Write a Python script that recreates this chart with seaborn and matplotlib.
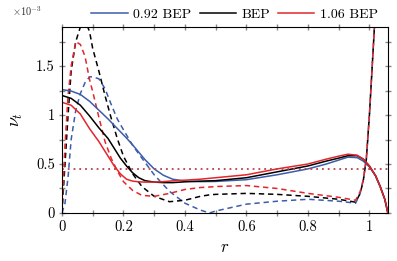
import numpy as np
import pandas as pd
import seaborn as sns
import matplotlib.pyplot as plt
from matplotlib.ticker import MultipleLocator

# Данные (значения в единицах 1e-3)
r_solid = [0, 0.03, 0.06, 0.09, 0.12, 0.15, 0.17, 0.19, 0.21, 0.23, 0.25, 0.27,
           0.3, 0.33, 0.36, 0.4, 0.45, 0.5, 0.6, 0.7, 0.8, 0.86, 0.9, 0.93, 0.96,
           0.98, 1.0, 1.02, 1.035, 1.05, 1.06]
nu_092 = [1.26, 1.245, 1.21, 1.14, 1.05, 0.96, 0.895, 0.83, 0.765, 0.695, 0.62, 0.545,
          0.45, 0.385, 0.345, 0.325, 0.32, 0.322, 0.34, 0.39, 0.45, 0.50, 0.54, 0.57,
          0.565, 0.53, 0.47, 0.38, 0.27, 0.14, 0.0]
nu_bep = [1.20, 1.17, 1.10, 0.99, 0.87, 0.76, 0.66, 0.56, 0.48, 0.41, 0.36, 0.33,
          0.315, 0.31, 0.31, 0.318, 0.325, 0.33, 0.36, 0.42, 0.48, 0.53, 0.56, 0.585,
          0.585, 0.55, 0.48, 0.38, 0.27, 0.14, 0.0]
nu_106 = [1.13, 1.10, 1.01, 0.86, 0.73, 0.58, 0.48, 0.40, 0.345, 0.325, 0.318, 0.315,
          0.315, 0.32, 0.328, 0.335, 0.345, 0.36, 0.39, 0.45, 0.50, 0.55, 0.58, 0.60,
          0.59, 0.55, 0.48, 0.38, 0.27, 0.14, 0.0]

r_dash = [0, 0.01, 0.02, 0.03, 0.045, 0.06, 0.075, 0.09, 0.1, 0.12, 0.14, 0.16,
          0.18, 0.2, 0.23, 0.26, 0.3, 0.35, 0.4, 0.45, 0.48, 0.5, 0.6, 0.7, 0.8,
          0.9, 0.955, 0.97, 0.98, 0.99, 1.0, 1.01, 1.02]
dash_092 = [0.0, 0.1, 0.37, 0.75, 1.05, 1.22, 1.33, 1.39, 1.39, 1.37, 1.27, 1.11,
            0.96, 0.85, 0.69, 0.56, 0.39, 0.22, 0.1, 0.03, 0.0, 0.02, 0.09, 0.12,
            0.14, 0.12, 0.10, 0.2, 0.33, 0.55, 1.0, 1.55, 2.1]
dash_bep = [0.0, 0.5, 1.0, 1.45, 1.75, 1.9, 1.97, 1.85, 1.68, 1.45, 1.2, 0.97,
            0.76, 0.58, 0.40, 0.27, 0.17, 0.115, 0.13, 0.17, 0.185, 0.19, 0.2, 0.19,
            0.17, 0.14, 0.11, 0.2, 0.33, 0.55, 1.0, 1.55, 2.1]
dash_106 = [0.0, 0.7, 1.2, 1.5, 1.75, 1.72, 1.6, 1.36, 1.24, 0.98, 0.73, 0.56,
            0.43, 0.32, 0.23, 0.18, 0.17, 0.2, 0.24, 0.26, 0.265, 0.27, 0.28, 0.25,
            0.2, 0.16, 0.13, 0.22, 0.34, 0.56, 1.0, 1.55, 2.1]

ref_level = 0.45

labels = ['0.92 BEP', 'BEP', '1.06 BEP']
colors = ['#3c5daa', 'black', '#e3262c']

plt.rcParams['font.family'] = ['cmr10']
plt.rcParams['mathtext.fontset'] = 'cm'
plt.rcParams['axes.unicode_minus'] = False
plt.rcParams['axes.formatter.use_mathtext'] = True

fig = plt.figure(figsize=(3.97, 2.61), dpi=100)
ax = fig.add_axes([0.156, 0.184, 0.821, 0.713])

solids = [nu_092, nu_bep, nu_106]
dashes = [dash_092, dash_bep, dash_106]

# пунктирные линии
for vals, c in zip(dashes, colors):
    sns.lineplot(x=r_dash, y=vals, ax=ax, color=c, lw=1.1, estimator=None,
                 sort=False, linestyle=(0, (3.5, 2.5)))

# сплошные линии
for vals, c, lab in zip(solids, colors, labels):
    sns.lineplot(x=r_solid, y=vals, ax=ax, color=c, lw=1.1, estimator=None,
                 sort=False, label=lab)

ax.axhline(ref_level, color='#b8414a', lw=1.3, linestyle=(0, (1, 2.2)))

ax.set_xlim(0, 1.06)
ax.set_ylim(0, 1.9)
ax.set_xticks([0, 0.2, 0.4, 0.6, 0.8, 1.0])
ax.set_xticklabels(['0', '0.2', '0.4', '0.6', '0.8', '1'])
ax.set_yticks([0, 0.5, 1.0, 1.5])
ax.set_yticklabels(['0', '0.5', '1', '1.5'])
ax.xaxis.set_minor_locator(MultipleLocator(0.1))
ax.yaxis.set_minor_locator(MultipleLocator(0.25))
ax.tick_params(axis='both', which='both', direction='inout', top=True, right=True,
               length=5, width=1.0, color='#888888')
ax.tick_params(axis='both', which='major', labelsize=10.5, pad=2.5)

for s in ax.spines.values():
    s.set_linewidth(0.8)

ax.set_xlabel('$r$', fontsize=12)
ax.set_ylabel(r'$\nu_t$', fontsize=13, labelpad=8)
fig.text(0.03, 0.958, r'$\times10^{-3}$', fontsize=7.5, color='#333333',
         ha='left', va='center')

ax.legend(loc='lower center', bbox_to_anchor=(0.53, 1.0), ncol=3, frameon=False,
          fontsize=10, handlelength=2.6, handletextpad=0.4, columnspacing=0.6,
          borderaxespad=0.0)

fig.savefig('out.png', dpi=100)
